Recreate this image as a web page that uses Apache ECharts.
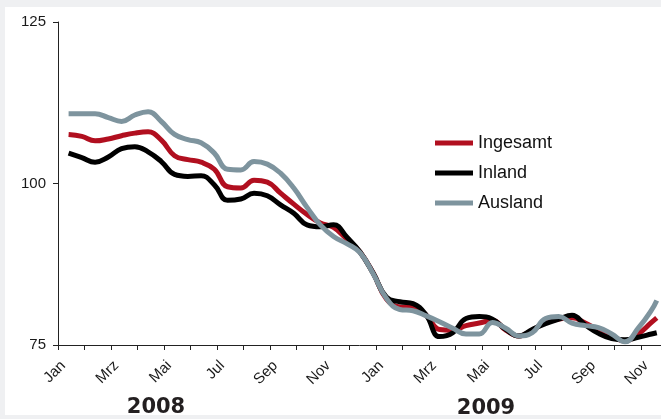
<!DOCTYPE html>
<html>
<head>
<meta charset="utf-8">
<title>Ingesamt / Inland / Ausland</title>
<script src="https://cdn.jsdelivr.net/npm/echarts@6/dist/echarts.min.js"></script>
<style>
  html, body { margin: 0; padding: 0; background: #eff0f2; }
  #main { width: 661px; height: 419px; }
</style>
</head>
<body>
<div id="main"></div>
<script>
// 月份刻度标签
const monthNames = ['Jan', 'Feb', 'Mrz', 'Apr', 'Mai', 'Jun', 'Jul', 'Aug', 'Sep', 'Okt', 'Nov', 'Dez'];
const yearLabels = ['2008', '2009'];
const seriesNames = ['Ingesamt', 'Inland', 'Ausland'];
// 观测时间：从 2008 年 1 月起的月数
const monthPos = [0.4, 0.9, 1.4, 1.9, 2.4, 2.9, 3.4, 3.9, 4.4, 4.9,
  5.4, 5.9, 6.4, 6.9, 7.4, 7.9, 8.4, 8.9, 9.4, 9.9,
  10.4, 10.9, 11.4, 11.9, 12.4, 12.9, 13.4, 13.9, 14.4, 14.9,
  15.4, 15.9, 16.4, 16.9, 17.4, 17.9, 18.4, 18.9, 19.4, 19.9,
  20.4, 20.9, 21.4, 21.9, 22.4, 22.6];
const ingesamt = [107.6, 107.3, 106.6, 106.9, 107.4, 107.8, 108.0, 106.7, 104.3, 103.7,
  103.3, 102.2, 99.5, 99.3, 100.5, 100.2, 98.5, 96.8, 95.2, 93.9,
  93.2, 91.4, 89.4, 86.1, 82.1, 80.9, 80.8, 79.6, 77.4, 77.3,
  78.0, 78.4, 78.8, 77.3, 76.4, 77.3, 78.5, 79.0, 79.2, 78.4,
  77.3, 76.4, 75.6, 76.7, 78.5, 79.2];
const inland = [104.7, 104.0, 103.3, 104.1, 105.4, 105.7, 104.9, 103.4, 101.4, 101.1,
  101.2, 99.8, 97.4, 97.6, 98.5, 98.1, 96.7, 95.4, 93.6, 93.3,
  93.6, 91.7, 89.4, 86.1, 82.4, 81.7, 81.4, 79.6, 76.3, 76.9,
  79.1, 79.4, 79.0, 77.4, 76.4, 77.4, 78.3, 79.0, 79.6, 78.1,
  76.8, 76.0, 75.8, 76.2, 76.7, 76.9];
const ausland = [110.8, 110.8, 110.8, 110.2, 109.6, 110.6, 111.1, 109.6, 107.6, 106.8,
  106.3, 104.7, 102.2, 102.1, 103.4, 103.0, 101.6, 99.3, 96.3, 93.6,
  91.8, 90.7, 89.3, 86.0, 82.2, 80.5, 80.3, 79.5, 78.6, 77.6,
  76.7, 76.7, 78.5, 77.6, 76.4, 76.9, 79.1, 79.4, 78.4, 78.0,
  77.7, 76.7, 75.5, 77.6, 80.4, 81.9];
const colors = ['#b10f1f', '#000000', '#7e949e'];
const font = '"Liberation Sans", Arial, sans-serif';

const main = document.getElementById('main');
const myChart = echarts.init(main);

const makeSeries = (name, values, i) => ({
  name: name,
  type: 'line',
  data: monthPos.map((m, n) => [m, values[n]]),
  smooth: 0.45,
  showSymbol: false,
  lineStyle: { width: 5, color: colors[i] },
  itemStyle: { color: colors[i] },
  z: 2 + i
});

const option = {
  backgroundColor: '#eff0f2',
  animation: false,
  grid: { left: 58, right: 0, top: 22, bottom: 74 },
  legend: {
    orient: 'vertical',
    left: 430,
    top: 129,
    icon: 'rect',
    itemWidth: 38,
    itemHeight: 5,
    itemGap: 12,
    data: seriesNames,
    textStyle: { fontSize: 18, color: '#111', lineHeight: 18, fontFamily: font }
  },
  xAxis: {
    type: 'value',
    min: 0,
    max: 22.76, // 图右侧被裁切，12月刻度在画布外
    interval: 1,
    splitLine: { show: false },
    axisLine: { show: true, onZero: false, lineStyle: { color: '#222', width: 1 } },
    axisTick: { show: true, length: 5, lineStyle: { color: '#222' } },
    axisLabel: {
      rotate: 45,
      margin: 13,
      fontSize: 15,
      fontFamily: font,
      color: '#1a1a1a',
      verticalAlign: 'top',
      showMaxLabel: false,
      formatter: (v) => (Number.isInteger(v) && v % 2 === 0) ? monthNames[v % 12] : ''
    }
  },
  yAxis: {
    type: 'value',
    min: 75,
    max: 125,
    interval: 25,
    splitLine: { show: false },
    axisLine: { show: true, lineStyle: { color: '#222', width: 1 } },
    axisTick: { show: true, length: 5, lineStyle: { color: '#222' } },
    axisLabel: { fontSize: 15, fontFamily: font, color: '#1a1a1a', margin: 12 }
  },
  graphic: [
    { type: 'rect', z: -100, shape: { x: 5, y: 7, width: 660, height: 408 }, style: { fill: '#ffffff' } },
    { type: 'text', x: 156, y: 408, style: { text: yearLabels[0], font: 'bold 21px "DejaVu Sans"', fill: '#231f20', textAlign: 'center', textVerticalAlign: 'middle' } },
    { type: 'text', x: 486, y: 409, style: { text: yearLabels[1], font: 'bold 21px "DejaVu Sans"', fill: '#231f20', textAlign: 'center', textVerticalAlign: 'middle' } }
  ],
  series: seriesNames.map((name, i) => makeSeries(name, [ingesamt, inland, ausland][i], i))
};

myChart.setOption(option);
</script>
</body>
</html>
